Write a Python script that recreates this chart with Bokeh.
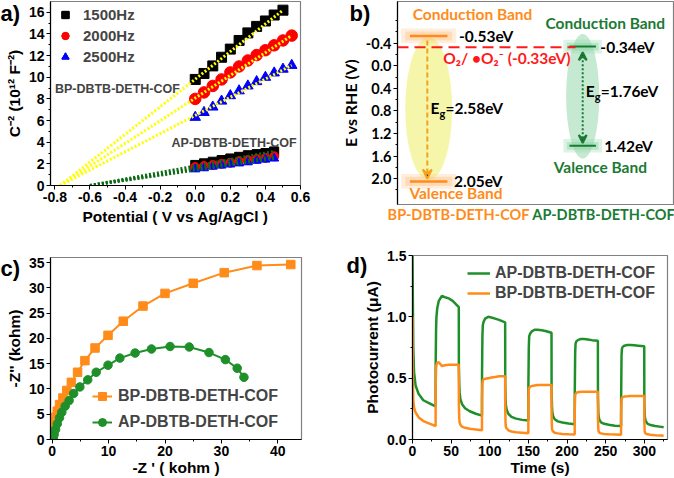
from jinja2 import Template
from bokeh.plotting import figure
from bokeh.models import (Range1d, FixedTicker, NumeralTickFormatter, Label, Legend,
                          LegendItem, Arrow, VeeHead)
from bokeh.embed import file_html
from bokeh.resources import INLINE

# ---------------- panel a data (Mott-Schottky) ----------------
pot_bp_1500 = [0.00, 0.05, 0.10, 0.15, 0.20, 0.25, 0.30, 0.35, 0.40, 0.45, 0.50]
pot_bp_long = [0.00, 0.05, 0.10, 0.15, 0.20, 0.25, 0.30, 0.35, 0.40, 0.45, 0.50, 0.55]
pot_ap = [0.00, 0.05, 0.10, 0.15, 0.20, 0.25, 0.30, 0.35, 0.40, 0.45]
bp_1500 = [9.8, 10.35, 11.05, 11.85, 12.6, 13.4, 14.1, 14.7, 15.2, 15.75, 16.2]
bp_2000 = [8.0, 8.6, 9.2, 9.8, 10.45, 11.0, 11.55, 12.05, 12.5, 12.95, 13.4, 13.85]
bp_2500 = [6.3, 6.75, 7.25, 7.8, 8.3, 8.75, 9.2, 9.6, 10.0, 10.4, 10.75, 11.1]
ap_1500 = [1.9, 2.05, 2.2, 2.35, 2.5, 2.65, 2.8, 2.9, 3.0, 3.15]
ap_2000 = [1.7, 1.8, 1.9, 2.0, 2.1, 2.25, 2.35, 2.45, 2.55, 2.7]
ap_2500 = [1.5, 1.6, 1.75, 1.85, 1.95, 2.05, 2.15, 2.3, 2.4, 2.5]
bp_flatband = -0.77
ap_flatband = -0.60
freq_labels = ["1500Hz", "2000Hz", "2500Hz"]

# ---------------- panel b data (band structure) ----------------
bp_cb, bp_vb, bp_eg = -0.53, 2.05, 2.58
ap_cb, ap_vb, ap_eg = -0.34, 1.42, 1.76
o2_level = -0.33
cof_names = ["BP-DBTB-DETH-COF", "AP-DBTB-DETH-COF"]

# ---------------- panel c data (EIS Nyquist) ----------------
bp_zre = [0.0, 0.1, 0.2, 0.35, 0.6, 0.9, 1.3, 1.9, 2.6, 3.4, 4.5, 5.8, 7.6, 9.9, 12.6,
          16.1, 20.0, 25.0, 30.5, 36.3, 42.3]
bp_zim = [0.0, 0.7, 2.0, 3.3, 4.4, 5.6, 6.9, 8.2, 9.7, 11.3, 13.3, 15.6, 18.1, 20.6, 23.4,
          26.4, 28.9, 30.9, 33.0, 34.4, 34.6]
ap_zre = [0.2, 0.35, 0.6, 0.9, 1.3, 1.7, 2.3, 3.0, 3.8, 4.9, 6.3, 7.8, 9.9, 12.0, 14.7,
          17.6, 20.9, 24.3, 27.8, 30.7, 32.8, 34.0]
ap_zim = [0.1, 1.0, 2.0, 3.1, 4.3, 5.4, 6.6, 7.7, 9.1, 10.4, 11.8, 13.3, 14.7, 16.1, 17.1,
          17.9, 18.4, 18.3, 17.2, 15.8, 14.1, 12.3]

# ---------------- panel d data (transient photocurrent) ----------------
time_s = [0, 0.5, 1, 2, 4, 8, 14, 22, 29.9,
          30, 30.5, 31, 32, 34, 38, 42, 47, 52, 59.9,
          60, 60.5, 61, 62, 64, 68, 74, 82, 89.9,
          90, 90.5, 91, 92, 94, 98, 102, 107, 112, 119.9,
          120, 120.5, 121, 122, 124, 128, 134, 142, 149.9,
          150, 150.5, 151, 152, 154, 158, 162, 167, 172, 179.9,
          180, 180.5, 181, 182, 184, 188, 194, 202, 209.9,
          210, 210.5, 211, 212, 214, 218, 222, 227, 232, 239.9,
          240, 240.5, 241, 242, 244, 248, 254, 262, 269.9,
          270, 270.5, 271, 272, 274, 278, 282, 287, 292, 299.9,
          300, 300.5, 301, 302, 304, 308, 314, 322, 325]
ap_current = [1.5, 1.1, 0.75, 0.55, 0.44, 0.37, 0.32, 0.295, 0.27,
              0.62, 0.9, 1.0, 1.07, 1.13, 1.17, 1.16, 1.15, 1.13, 1.08,
              0.6, 0.45, 0.38, 0.33, 0.29, 0.255, 0.23, 0.21, 0.195,
              0.55, 0.85, 0.93, 0.96, 0.985, 1.0, 0.995, 0.985, 0.975, 0.955,
              0.45, 0.32, 0.27, 0.24, 0.21, 0.185, 0.17, 0.16, 0.155,
              0.45, 0.75, 0.84, 0.86, 0.88, 0.895, 0.895, 0.89, 0.885, 0.87,
              0.4, 0.27, 0.22, 0.19, 0.165, 0.148, 0.138, 0.13, 0.125,
              0.38, 0.7, 0.78, 0.8, 0.81, 0.82, 0.82, 0.815, 0.81, 0.805,
              0.35, 0.22, 0.18, 0.16, 0.14, 0.128, 0.12, 0.113, 0.11,
              0.33, 0.68, 0.74, 0.755, 0.765, 0.77, 0.77, 0.768, 0.765, 0.76,
              0.3, 0.2, 0.17, 0.15, 0.13, 0.118, 0.11, 0.103, 0.1]
bp_current = [1.0, 0.5, 0.32, 0.26, 0.22, 0.18, 0.15, 0.13, 0.11,
              0.45, 0.58, 0.61, 0.625, 0.63, 0.6, 0.605, 0.61, 0.61, 0.61,
              0.3, 0.17, 0.14, 0.12, 0.105, 0.095, 0.088, 0.082, 0.075,
              0.35, 0.46, 0.48, 0.49, 0.495, 0.5, 0.505, 0.51, 0.515, 0.515,
              0.25, 0.12, 0.1, 0.09, 0.075, 0.065, 0.06, 0.055, 0.05,
              0.3, 0.41, 0.42, 0.43, 0.435, 0.44, 0.445, 0.445, 0.445, 0.445,
              0.2, 0.09, 0.075, 0.065, 0.055, 0.05, 0.045, 0.042, 0.04,
              0.25, 0.36, 0.37, 0.38, 0.385, 0.39, 0.39, 0.39, 0.39, 0.39,
              0.18, 0.08, 0.065, 0.055, 0.05, 0.045, 0.042, 0.04, 0.038,
              0.22, 0.33, 0.34, 0.345, 0.35, 0.352, 0.355, 0.355, 0.355, 0.355,
              0.15, 0.07, 0.055, 0.048, 0.042, 0.038, 0.035, 0.032, 0.03]

ARIAL = "Liberation Sans"
CAL = "Lato"
ORANGE = "#ff8c1a"
GREEN = "#1f8f2a"
DKGREEN = "#1b7a34"


def style_axes(p, font, tick_size="14px", label_size="15.5px"):
    for ax in p.axis:
        ax.major_label_text_font = font
        ax.major_label_text_font_style = "bold"
        ax.major_label_text_font_size = tick_size
        ax.major_label_text_color = "black"
        ax.axis_label_text_font = font
        ax.axis_label_text_font_style = "bold"
        ax.axis_label_text_font_size = label_size
        ax.axis_label_text_color = "black"
        ax.major_tick_in = 0
        ax.major_tick_out = 4
        ax.minor_tick_in = 0
        ax.minor_tick_out = 2
        ax.axis_line_color = "black"
        ax.major_tick_line_color = "black"
        ax.minor_tick_line_color = "black"
        ax.axis_line_width = 1.2
        ax.major_label_standoff = 2
        ax.axis_label_standoff = 3
    p.xgrid.visible = False
    p.ygrid.visible = False
    p.outline_line_color = "#808080"
    p.outline_line_width = 1.2


W, H = 337, 239

# ================= panel a =================
pa = figure(width=W, height=H, output_backend="svg", toolbar_location=None,
            x_range=Range1d(-0.825, 0.6), y_range=Range1d(0, 17),
            min_border_left=50, min_border_right=37, min_border_top=1, min_border_bottom=54,
            x_axis_label="Potential ( V vs Ag/AgCl )", y_axis_label="C⁻² (10¹² F⁻²)")
style_axes(pa, ARIAL)
pa.xaxis.ticker = FixedTicker(ticks=[-0.8, -0.6, -0.4, -0.2, 0.0, 0.2, 0.4, 0.6],
                              minor_ticks=[-0.7, -0.5, -0.3, -0.1, 0.1, 0.3, 0.5])
pa.xaxis.formatter = NumeralTickFormatter(format="0.0")
pa.yaxis.ticker = FixedTicker(ticks=list(range(0, 17, 2)), minor_ticks=list(range(1, 17, 2)))

r_sq = [pa.scatter(pot_bp_1500, bp_1500, marker="square", size=10, color="black"),
        pa.scatter(pot_ap, ap_1500, marker="square", size=9, color="black")]
r_ci = [pa.scatter(pot_bp_long, bp_2000, marker="circle", size=11.5, color="#ff0000"),
        pa.scatter(pot_ap, ap_2000, marker="circle", size=9, color="#ff0000")]
r_tr = [pa.scatter(pot_bp_long, bp_2500, marker="triangle", size=10.5, color="#0000ff"),
        pa.scatter(pot_ap, ap_2500, marker="triangle", size=9, color="#0000ff")]
for xs, ys in [(pot_bp_1500, bp_1500), (pot_bp_long, bp_2000), (pot_bp_long, bp_2500)]:
    pa.line([bp_flatband, xs[-1]], [0, ys[-1]], line_color="#ffff00", line_width=3,
            line_dash="2 2")
for ys in [ap_1500, ap_2000, ap_2500]:
    pa.line([ap_flatband, pot_ap[-1]], [0, ys[-1]], line_color="#0b6b12", line_width=3,
            line_dash="2 2")
leg_a = Legend(items=[LegendItem(label=freq_labels[0], renderers=r_sq),
                      LegendItem(label=freq_labels[1], renderers=r_ci),
                      LegendItem(label=freq_labels[2], renderers=r_tr)],
               location=(6, 119), border_line_alpha=0, background_fill_alpha=0,
               padding=0, margin=0, spacing=2, glyph_height=19, glyph_width=18,
               label_standoff=9, label_text_font=ARIAL, label_text_font_style="bold",
               label_text_font_size="15px", label_height=19)
pa.add_layout(leg_a)
pa.add_layout(Label(x=-0.8, y=8.95, text=cof_names[0], text_font=ARIAL, text_font_style="bold",
                    text_font_size="12.5px", text_baseline="middle"))
pa.add_layout(Label(x=-0.135, y=3.95, text=cof_names[1], text_font=ARIAL, text_font_style="bold",
                    text_font_size="12.5px", text_baseline="middle"))

# ================= panel b =================
pb = figure(width=W, height=H, output_backend="svg", toolbar_location=None,
            x_range=Range1d(0, 10), y_range=Range1d(2.46, -1.14),
            min_border_left=53, min_border_right=1, min_border_top=1, min_border_bottom=35,
            y_axis_label="E vs RHE (V)")
style_axes(pb, CAL, tick_size="14.5px", label_size="16px")
pb.xaxis.visible = False
pb.yaxis.ticker = FixedTicker(ticks=[-0.4, 0.0, 0.4, 0.8, 1.2, 1.6, 2.0],
                              minor_ticks=[-0.8, -0.6, -0.2, 0.2, 0.6, 1.0, 1.4, 1.8, 2.2])
pb.yaxis.formatter = NumeralTickFormatter(format="0.0")

bp_x, ap_x = 1.13, 6.71
pb.ellipse(x=bp_x, y=(bp_cb + bp_vb) / 2, width=1.7, height=(bp_vb - bp_cb) - 0.05,
           fill_color="#eeee55", fill_alpha=0.5, line_alpha=0)
pb.ellipse(x=ap_x, y=(ap_cb + ap_vb) / 2, width=1.2, height=(ap_vb - ap_cb) + 0.45,
           fill_color="#7fcf99", fill_alpha=0.45, line_alpha=0)
for yv in [bp_cb, bp_vb]:
    pb.rect(x=bp_x, y=yv, width=2.0, height=0.26, fill_color="#ffc890", fill_alpha=0.3,
            line_alpha=0)
    pb.rect(x=bp_x, y=yv, width=1.7, height=0.16, fill_color="#ffb870", fill_alpha=0.35,
            line_alpha=0)
for yv in [ap_cb, ap_vb]:
    pb.rect(x=ap_x, y=yv, width=1.4, height=0.24, fill_color="#9fdcb4", fill_alpha=0.35,
            line_alpha=0)
    pb.rect(x=ap_x, y=yv, width=1.15, height=0.14, fill_color="#7fd49c", fill_alpha=0.4,
            line_alpha=0)
pb.segment(x0=bp_x - 0.68, x1=bp_x + 0.68, y0=[bp_cb, bp_vb], y1=[bp_cb, bp_vb],
           line_color=ORANGE, line_width=2.5)
pb.segment(x0=ap_x - 0.48, x1=ap_x + 0.48, y0=[ap_cb, ap_vb], y1=[ap_cb, ap_vb],
           line_color=DKGREEN, line_width=2)
pb.segment(x0=0, x1=6.45, y0=o2_level, y1=o2_level, line_color="#ff1a1a", line_width=2,
           line_dash="11 6")
pb.add_layout(Arrow(x_start=bp_x - 0.05, y_start=bp_cb + 0.08, x_end=bp_x - 0.05, y_end=bp_vb - 0.05,
                    line_color="#f5a020", line_width=2, line_dash="5 3",
                    end=VeeHead(size=9, line_color="#f5a020", line_width=2)))
pb.add_layout(Arrow(x_start=ap_x, y_start=ap_cb + 0.1, x_end=ap_x, y_end=ap_vb - 0.05,
                    line_color=DKGREEN, line_width=2, line_dash="2 2",
                    start=VeeHead(size=8, line_color=DKGREEN, line_width=2),
                    end=VeeHead(size=8, line_color=DKGREEN, line_width=2)))


def blab(p, x, y, txt, color="black", size="15.5px", align="left", font=CAL, **kw):
    p.add_layout(Label(x=x, y=y, text=txt, text_font=font, text_font_style="bold",
                       text_font_size=size, text_color=color, text_align=align,
                       text_baseline="middle", **kw))


def eg(p, x, y, val):
    blab(p, x, y, "E")
    blab(p, x, y, "g", size="11px", x_offset=9, y_offset=-5)
    blab(p, x, y, "=%.2feV" % val, x_offset=15)


blab(pb, 2.72, -0.91, "Conduction Band", color=ORANGE, align="center")
blab(pb, 2.23, bp_cb, "%.2feV" % bp_cb)
eg(pb, 1.2, 0.75, bp_eg)
blab(pb, 2.05, bp_vb, "%.2feV" % bp_vb)
blab(pb, 2.12, 2.26, "Valence Band", color=ORANGE, align="center")
blab(pb, 1.66, -0.14, "O₂/ •O₂⁻ (%.2feV)" % o2_level, color="#ff1a1a")
blab(pb, 7.53, -0.75, "Conduction Band", color=DKGREEN, align="center")
blab(pb, 7.35, ap_cb, "%.2feV" % ap_cb)
eg(pb, 6.82, 0.45, ap_eg)
blab(pb, 7.49, ap_vb, "%.2feV" % ap_vb)
blab(pb, 7.35, 1.8, "Valence Band", color=DKGREEN, align="center")

# ================= panel c =================
pc = figure(width=W, height=H, output_backend="svg", toolbar_location=None,
            x_range=Range1d(-0.3, 44.2), y_range=Range1d(0, 36),
            min_border_left=50, min_border_right=36, min_border_top=18, min_border_bottom=38,
            x_axis_label="-Z ' ( kohm )", y_axis_label="-Z'' (kohm)")
style_axes(pc, ARIAL)
pc.xaxis.ticker = FixedTicker(ticks=[0, 10, 20, 30, 40], minor_ticks=[5, 15, 25, 35])
pc.yaxis.ticker = FixedTicker(ticks=[0, 5, 10, 15, 20, 25, 30, 35])
pc.xaxis.axis_label_standoff = 0
l1 = pc.line(bp_zre, bp_zim, line_color=ORANGE, line_width=2)
s1 = pc.scatter(bp_zre, bp_zim, marker="square", size=8.5, color=ORANGE)
l2 = pc.line(ap_zre, ap_zim, line_color=GREEN, line_width=2)
s2 = pc.scatter(ap_zre, ap_zim, marker="circle", size=8.5, color=GREEN)
leg_c = Legend(items=[LegendItem(label=cof_names[0], renderers=[l1, s1]),
                      LegendItem(label=cof_names[1], renderers=[l2, s2])],
               location=(42, 7), border_line_alpha=0, background_fill_alpha=0,
               padding=0, margin=0, spacing=6, glyph_height=20, glyph_width=20,
               label_standoff=6, label_text_font=ARIAL, label_text_font_style="bold",
               label_text_font_size="16px", label_height=20)
pc.add_layout(leg_c)

# ================= panel d =================
pd_ = figure(width=W, height=H, output_backend="svg", toolbar_location=None,
             x_range=Range1d(0, 330), y_range=Range1d(0, 1.5),
             min_border_left=75, min_border_right=7, min_border_top=16, min_border_bottom=37,
             x_axis_label="Time (s)", y_axis_label="Photocurrent (μA)")
style_axes(pd_, ARIAL)
pd_.xaxis.ticker = FixedTicker(ticks=[0, 50, 100, 150, 200, 250, 300],
                               minor_ticks=[25, 75, 125, 175, 225, 275, 325])
pd_.yaxis.ticker = FixedTicker(ticks=[0, 0.5, 1.0, 1.5], minor_ticks=[0.25, 0.75, 1.25])
pd_.yaxis.formatter = NumeralTickFormatter(format="0.0")
pd_.xaxis.axis_label_standoff = 0
g1 = pd_.line(time_s, ap_current, line_color=GREEN, line_width=2.5)
o1 = pd_.line(time_s, bp_current, line_color=ORANGE, line_width=2.5)
leg_d = Legend(items=[LegendItem(label=cof_names[1], renderers=[g1]),
                      LegendItem(label=cof_names[0], renderers=[o1])],
               location=(55, 136), border_line_alpha=0, background_fill_alpha=0,
               padding=0, margin=0, spacing=0, glyph_height=20, glyph_width=23,
               label_standoff=5, label_text_font=ARIAL, label_text_font_style="bold",
               label_text_font_size="16px", label_height=20)
pd_.add_layout(leg_d)

# ================= overlay for texts outside the plot frames =================
ov = figure(width=2 * W, height=2 * H, output_backend="svg", toolbar_location=None,
            x_range=Range1d(0, 2 * W), y_range=Range1d(2 * H, 0),
            x_axis_type=None, y_axis_type=None, min_border=0,
            background_fill_color=None, border_fill_color=None, outline_line_color=None)
ov.xgrid.visible = False
ov.ygrid.visible = False
for (x, y, t) in [(0, 13, "a)"), (349, 13, "b)"), (0, 268, "c)"), (346, 265, "d)")]:
    blab(ov, x, y, t, size="22px", font=ARIAL)
blab(ov, 458, 214, cof_names[0], color=ORANGE, align="center", size="14.5px")
blab(ov, 603, 214, cof_names[1], color=DKGREEN, align="center", size="14.5px")

TEMPLATE = Template("""{% extends base %}
{% block contents %}
<div style="position:relative;width:674px;height:478px;">
<div style="position:absolute;left:0px;top:0px;">{{ embed(roots[0]) }}</div>
<div style="position:absolute;left:337px;top:0px;">{{ embed(roots[1]) }}</div>
<div style="position:absolute;left:0px;top:239px;">{{ embed(roots[2]) }}</div>
<div style="position:absolute;left:337px;top:239px;">{{ embed(roots[3]) }}</div>
<div style="position:absolute;left:0px;top:0px;pointer-events:none;">{{ embed(roots[4]) }}</div>
</div>
{% endblock %}""")

open("out.html", "w").write(file_html([pa, pb, pc, pd_, ov], INLINE, template=TEMPLATE))
